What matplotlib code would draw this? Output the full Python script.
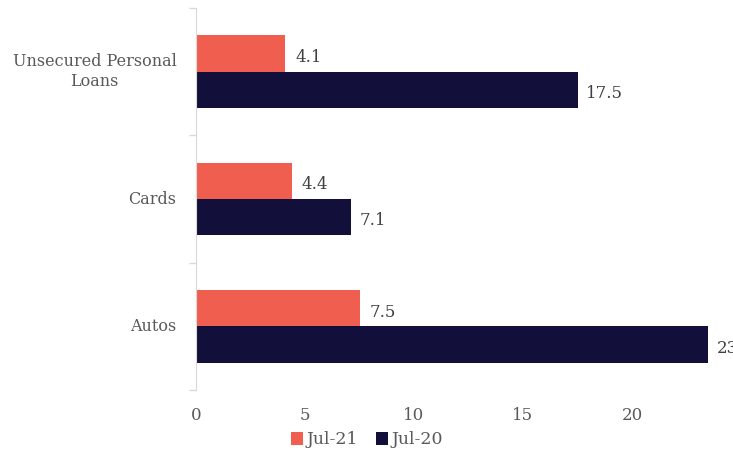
import matplotlib.pyplot as plt
import numpy as np

# data
categories = ["Autos", "Cards", "Unsecured Personal\nLoans"]
jul_21 = [7.5, 4.4, 4.1]
jul_20 = [23.5, 7.1, 17.5]
series_names = ["Jul-21", "Jul-20"]
x_ticks = [0, 5, 10, 15, 20]

RED = "#F05E50"
NAVY = "#12103A"
GREY = "#595959"

plt.rcParams["font.family"] = ["DejaVu Serif"]

fig = plt.figure(figsize=(7.33, 4.55), dpi=100)
# axes run off the right edge of the picture, as in the reference
x_max = 25
px_per_unit = 21.8
ax = fig.add_axes([196 / 733, 65 / 455, x_max * px_per_unit / 733, 382 / 455])

y = np.arange(len(categories))
h = 0.285
ax.barh(y + h / 2, jul_21, height=h, color=RED, label=series_names[0])
ax.barh(y - h / 2, jul_20, height=h, color=NAVY, label=series_names[1])

for yy, v in zip(y + h / 2, jul_21):
    ax.text(v + 0.45, yy - 0.03, f"{v:.1f}", va="center", ha="left",
            fontsize=12, color="#404040")
for yy, v in zip(y - h / 2, jul_20):
    ax.text(v + 0.4, yy - 0.03, f"{v:.1f}", va="center", ha="left",
            fontsize=12, color="#404040")

ax.set_xlim(0, x_max)
ax.set_ylim(-0.5, len(categories) - 0.5)

ax.set_xticks(x_ticks)
ax.tick_params(axis="x", length=0, pad=12, labelsize=12, labelcolor=GREY)

# boundary ticks on y, labels at the category centres
ax.set_yticks(np.arange(-0.5, len(categories), 1.0))
ax.set_yticklabels([])
ax.tick_params(axis="y", which="major", length=5, color="#D9D9D9", width=1)
ax.set_yticks(y, minor=True)
ax.set_yticklabels(categories, minor=True, ha="right", va="center",
                   fontsize=11.5, color=GREY, multialignment="center")
ax.tick_params(axis="y", which="minor", length=0, pad=14)

for s in ["top", "right", "bottom"]:
    ax.spines[s].set_visible(False)
ax.spines["left"].set_color("#D9D9D9")

fig.legend(loc="center", bbox_to_anchor=(367 / 733, 1 - 440 / 455),
           ncol=2, frameon=False, fontsize=12.5, handlelength=0.7,
           handleheight=0.7, handletextpad=0.2, columnspacing=1.0,
           labelcolor=GREY)

fig.savefig("out.png", dpi=100)
